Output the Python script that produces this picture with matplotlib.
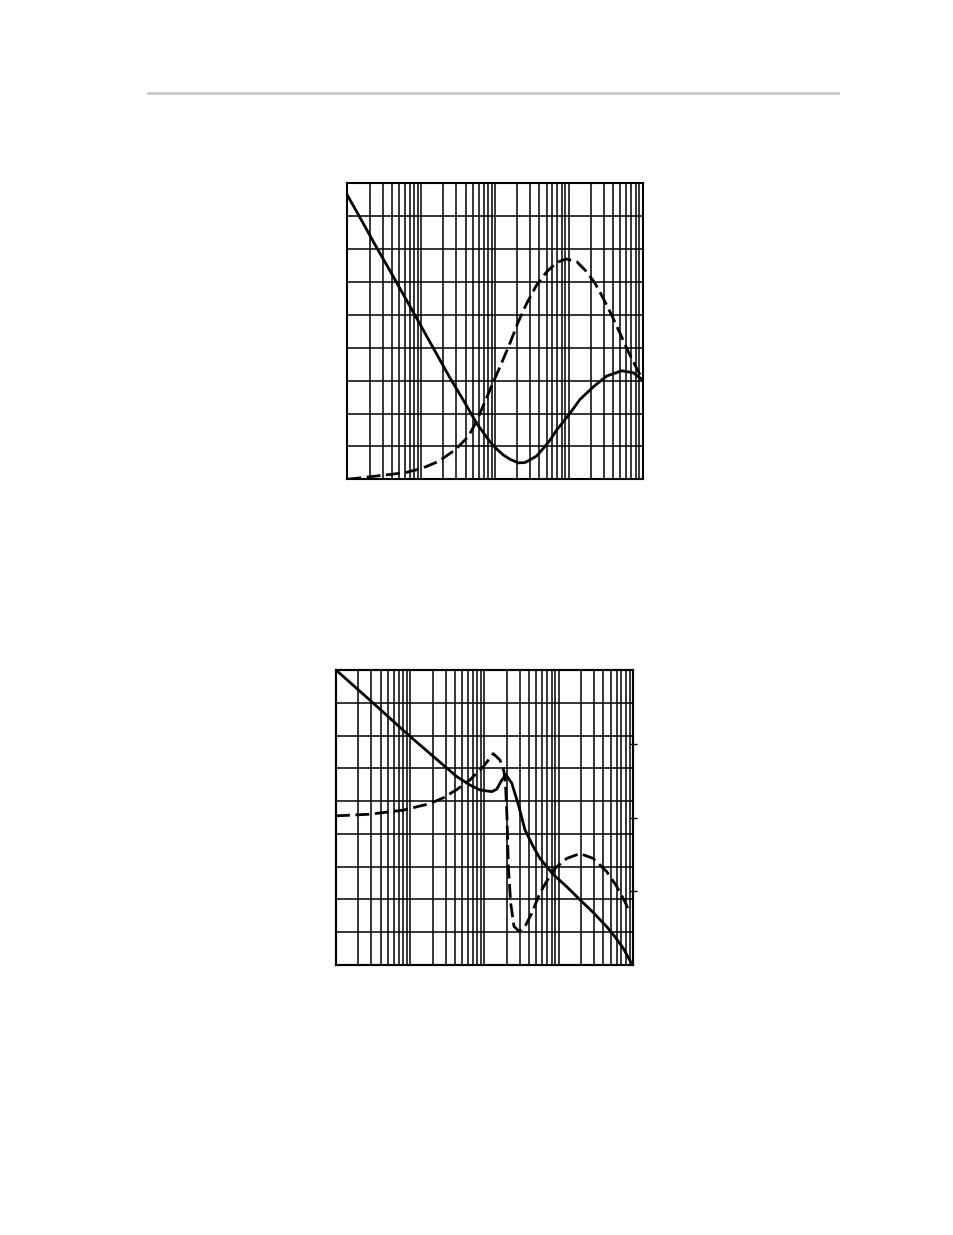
import numpy as np
import matplotlib.pyplot as plt
from matplotlib.ticker import NullFormatter, LogLocator

# Top chart (values in grid divisions, 0..9)
f1_solid = [10, 14.1, 24.2, 39.9, 78.3, 246, 372, 565, 855, 1054, 1295, 1596, 2068,
            2547, 2979, 3670, 4509, 5560, 6850, 8410, 10370, 14160, 21430, 32500,
            52000, 74600, 100000]
y1_solid = [8.64, 8.05, 7.10, 6.25, 5.08, 3.08, 2.41, 1.70, 1.14, 0.92, 0.74, 0.61, 0.50,
            0.51, 0.59, 0.71, 0.94, 1.19, 1.50, 1.75, 2.01, 2.43, 2.81, 3.14,
            3.30, 3.24, 3.02]
f1_dash = [10, 17.4, 32.4, 60.4, 101.7, 170.8, 287, 435, 565, 940, 1169, 1596, 2069,
           2687, 3671, 5012, 6842, 9146, 12760, 17450, 22600, 29300, 38000, 49300,
           63800, 83000, 100000]
y1_dash = [0, 0.06, 0.13, 0.20, 0.33, 0.54, 0.89, 1.30, 1.77, 2.94, 3.42, 4.14, 4.79,
           5.35, 5.91, 6.31, 6.59, 6.70, 6.62, 6.31, 5.96, 5.50, 4.99, 4.44,
           3.88, 3.37, 3.02]

# Bottom chart: solid on left scale (divisions), dashed on right scale (degrees)
f2_solid = [10, 30.3, 94.2, 279, 422, 638, 870, 1250, 1460, 1706, 1950, 2325, 2853,
            3510, 4540, 5590, 8450, 12800, 19320, 29200, 44200, 57200, 74000, 98000]
y2_solid = [9.0, 8.03, 7.02, 6.10, 5.75, 5.49, 5.34, 5.29, 5.36, 5.64, 5.80, 5.55, 4.90,
            4.12, 3.61, 3.25, 2.76, 2.39, 1.99, 1.60, 1.17, 0.86, 0.51, 0.0]
f2_dash = [10, 28.7, 80.6, 184.5, 279, 422, 638, 964, 1313, 1618, 1832, 1920, 2010,
           2094, 2255, 2497, 2944, 3510, 4320, 5590, 6880, 8910, 12800, 19320,
           29200, 44200, 60300, 78000, 89100]
p2_dash = [2, 4, 9, 17, 24, 34, 46, 62, 78, 70, 56, 40, 0,
           -60, -105, -133, -139, -133, -117, -92, -78, -62, -50, -44,
           -50, -66, -84, -103, -115]

fig = plt.figure(figsize=(9.54, 12.35), dpi=100)
fig.add_artist(plt.Line2D([148 / 954, 838 / 954], [1 - 92.5 / 1235, 1 - 92.5 / 1235],
                          color='#c8c8c8', lw=2))


def style_grid(ax):
    ax.set_xscale('log')
    ax.set_xlim(10, 100000)
    ax.set_ylim(0, 9)
    ax.set_yticks(range(10))
    ax.xaxis.set_major_locator(LogLocator(base=10))
    ax.xaxis.set_minor_locator(LogLocator(base=10, subs=np.arange(2, 10)))
    ax.grid(True, which='both', axis='x', color='black', lw=1.1)
    ax.grid(True, which='major', axis='y', color='black', lw=1.1)
    ax.tick_params(which='both', length=0, labelleft=False, labelbottom=False)
    ax.xaxis.set_minor_formatter(NullFormatter())
    for s in ax.spines.values():
        s.set_linewidth(1.5)


ax1 = fig.add_axes([347.3 / 954, 1 - 479.3 / 1235, 295.4 / 954, 296 / 1235])
style_grid(ax1)
ax1.plot(f1_solid, y1_solid, color='black', lw=2.0, solid_joinstyle='round')
ax1.plot(f1_dash, y1_dash, color='black', lw=2.0, dashes=(5, 2))

ax2 = fig.add_axes([336 / 954, 1 - 965 / 1235, 297 / 954, 295 / 1235])
style_grid(ax2)
ax2.plot(f2_solid, y2_solid, color='black', lw=2.0, solid_joinstyle='round')

ax2r = ax2.twinx()
ax2r.set_ylim(-180, 180)
ax2r.set_yticks([-90, 0, 90])
ax2r.tick_params(axis='y', direction='inout', length=6, width=1.0, labelright=False)
ax2r.plot(f2_dash, p2_dash, color='black', lw=2.0, dashes=(5, 2))
for s in ax2r.spines.values():
    s.set_linewidth(1.5)

fig.savefig('out.png', dpi=100)
